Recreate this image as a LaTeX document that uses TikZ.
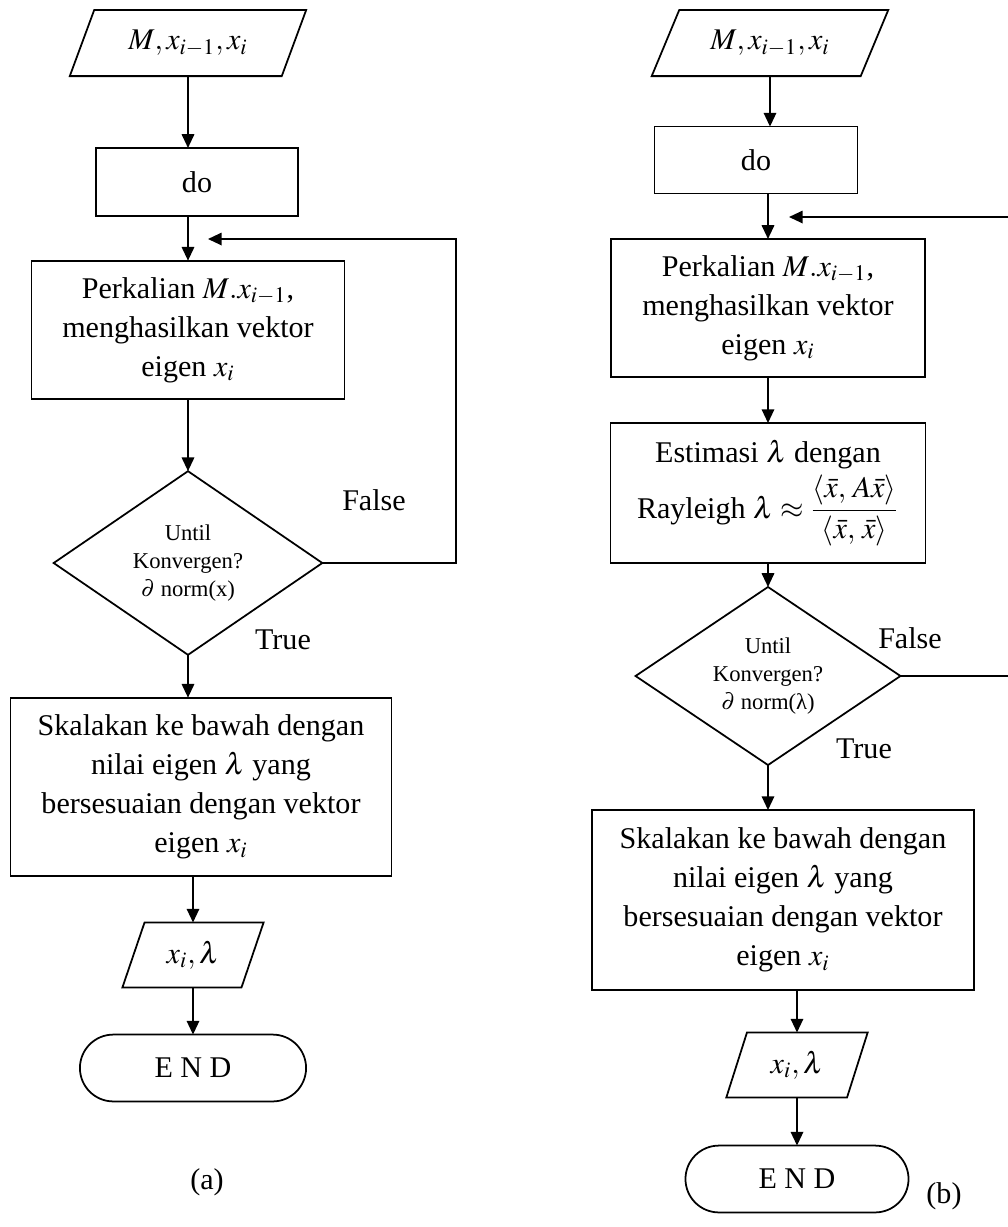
\documentclass[tikz,border=0pt]{standalone}
\usepackage{mathptmx}
\usepackage[no-math]{fontspec}
\setmainfont{Liberation Serif}
\usetikzlibrary{shapes.geometric}
\usetikzlibrary{shapes.misc}
\usetikzlibrary{arrows.meta}

\begin{document}
\begin{tikzpicture}[x=0.016cm,y=-0.016cm,line width=0.8pt,>={Triangle[length=0.22cm,width=0.2cm]},
    every node/.style={inner sep=0,outer sep=0,line width=0.8pt,font=\fontsize{13.7}{17.8}\selectfont},
    kotak/.style={draw,rectangle,align=center},
    jajar/.style={draw,trapezium,trapezium stretches=true},
    cabang/.style={draw,diamond,aspect=1.5,align=center,font=\fontsize{10.3}{12.9}\selectfont},
    ujung/.style={draw,rounded rectangle}]
    \clip (0,0) rectangle (1008,1227);

    % (a)
    \node[jajar,trapezium left angle=59,trapezium right angle=121,minimum width=3.81cm,minimum height=1.06cm](ina) at (188,43) {$M, x_{i-1}, x_i$};
    \node[kotak,minimum width=3.23cm,minimum height=1.09cm](doa) at (197,182) {do};
    \node[kotak,minimum width=5.01cm,minimum height=2.22cm](perka) at (188,330) {Perkalian $M.x_{i-1}$,\\menghasilkan vektor\\eigen $x_i$};
    \node[cabang,minimum width=4.30cm,minimum height=2.94cm](diaa) at (188,563) {Until\\Konvergen?\\$\partial$ norm(x)};
    \node[kotak,minimum width=6.10cm,minimum height=2.86cm](skala) at (201,787) {Skalakan ke bawah dengan\\nilai eigen $\lambda$ yang\\bersesuaian dengan vektor\\eigen $x_i$};
    \node[jajar,trapezium left angle=67,trapezium right angle=113,minimum width=2.26cm,minimum height=1.04cm](outa) at (193,955) {$x_i, \lambda$};
    \node[ujung,minimum width=3.62cm,minimum height=1.07cm](enda) at (193,1068) {E N D};
    \node(falsea) at (374,500) {False};
    \node(truea) at (283,640) {True};
    \node(capa) at (207,1182) {(a)};
    \coordinate(loopa) at (456,239);
    \coordinate(tipa) at (208,239);

    \draw[->] (ina) -- (ina |- doa.north);
    \draw[->] (doa.south -| perka) -- (perka);
    \draw[->] (perka) -- (diaa);
    \draw[->] (diaa) -- (diaa |- skala.north);
    \draw[->] (skala.south -| outa) -- (outa);
    \draw[->] (outa) -- (enda);
    \draw[->] (diaa.east) -| (loopa) -- (tipa);

    % (b)
    \node[jajar,trapezium left angle=55,trapezium right angle=125,minimum width=3.79cm,minimum height=1.06cm](inb) at (770,43) {$M, x_{i-1}, x_i$};
    \node[kotak,minimum width=3.25cm,minimum height=1.07cm](dob) at (756,160) {do};
    \node[kotak,minimum width=5.02cm,minimum height=2.21cm](perkb) at (768,308) {Perkalian $M.x_{i-1}$,\\menghasilkan vektor\\eigen $x_i$};
    \node[kotak,minimum width=5.04cm,minimum height=2.24cm](estb) at (768,493) {Estimasi $\lambda$ dengan\\[2pt]Rayleigh $\lambda \approx \displaystyle\frac{\langle \bar{x},\, A\bar{x}\rangle}{\langle \bar{x},\, \bar{x}\rangle}$};
    \node[cabang,minimum width=4.24cm,minimum height=2.85cm](diab) at (768,676) {Until\\Konvergen?\\$\partial$ norm(λ)};
    \node[kotak,minimum width=6.11cm,minimum height=2.88cm](skalb) at (783,900) {Skalakan ke bawah dengan\\nilai eigen $\lambda$ yang\\bersesuaian dengan vektor\\eigen $x_i$};
    \node[jajar,trapezium left angle=69,trapezium right angle=111,minimum width=2.27cm,minimum height=1.04cm](outb) at (797,1065) {$x_i, \lambda$};
    \node[ujung,minimum width=3.57cm,minimum height=1.07cm](endb) at (797,1179) {E N D};
    \node(falseb) at (910,638) {False};
    \node(trueb) at (864,749) {True};
    \node(capb) at (944,1196) {(b)};
    \coordinate(loopb) at (1040,217);
    \coordinate(tipb) at (789,217);

    \draw[->] (inb) -- (inb |- dob.north);
    \draw[->] (dob.south -| perkb) -- (perkb);
    \draw[->] (perkb) -- (estb);
    \draw[->] (estb) -- (diab);
    \draw[->] (diab) -- (diab |- skalb.north);
    \draw[->] (skalb.south -| outb) -- (outb);
    \draw[->] (outb) -- (endb);
    \draw[->] (diab.east) -| (loopb) -- (tipb);
\end{tikzpicture}
\end{document}
